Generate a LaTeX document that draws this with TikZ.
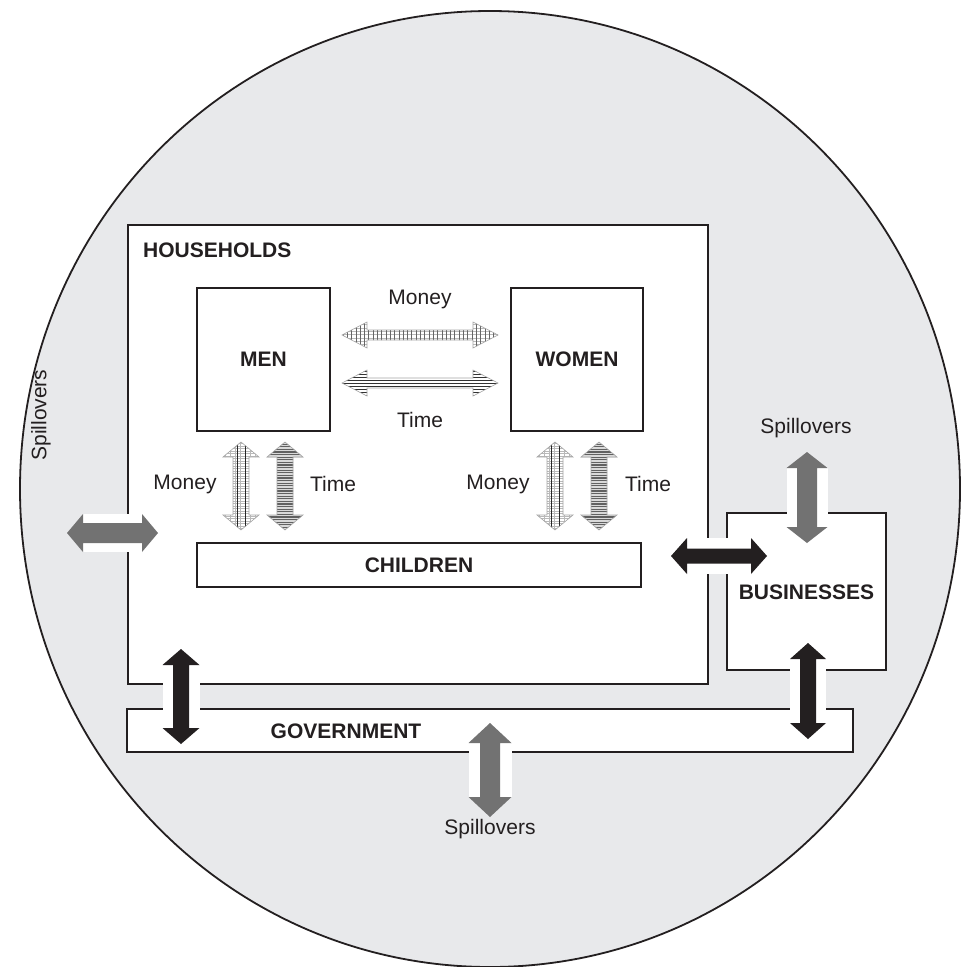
\documentclass[tikz,border=0pt]{standalone}
\usepackage{fontspec}
\setmainfont{Liberation Sans}
\usetikzlibrary{calc}

\definecolor{bgcircle}{HTML}{E8E9EB}
\definecolor{ink}{HTML}{231F20}
\definecolor{spill}{HTML}{727272}

% outline of a double-headed block arrow centred on the origin, pointing along x
% #1 length, #2 shaft width, #3 head width, #4 head length
\newcommand\arrowpoly[4]{(-#1/2,0) -- (-#1/2+#4,-#3/2) -- (-#1/2+#4,-#2/2) -- (#1/2-#4,-#2/2) -- (#1/2-#4,-#3/2) -- (#1/2,0) -- (#1/2-#4,#3/2) -- (#1/2-#4,#2/2) -- (-#1/2+#4,#2/2) -- (-#1/2+#4,#3/2) -- cycle}

% solid block arrow on a white backing strip
% #1 style, #2 centre, #3 angle, #4 length, #5 shaft, #6 head, #7 head length
\newcommand\solidarrow[7]{%
  \fill[white,shift={#2},rotate=#3] (-#4/2+#7,-#6/2) rectangle (#4/2-#7,#6/2);
  \path[#1,shift={#2},rotate=#3] \arrowpoly{#4}{#5}{#6}{#7};
}

% hatched block arrow: #8 draws the hatching around coordinate (pc)
\newcommand\hatcharrow[8]{%
  \path #2 coordinate (pc);
  \begin{scope}
    \clip[shift={#2},rotate=#3] \arrowpoly{#4}{#5}{#6}{#7};
    #8
  \end{scope}
  \draw[#1,shift={#2},rotate=#3] \arrowpoly{#4}{#5}{#6}{#7};
}

% hatchings
\newcommand\moneygrid{%
  \fill[white] ([shift={(-90,-60)}]pc) rectangle ([shift={(90,60)}]pc);
  \foreach \k in {-60,-56.7,...,60}
    \draw[gray!55,line width=0.4pt] ([shift={(-90,\k)}]pc) -- ([shift={(90,\k)}]pc);
  \foreach \k in {-90,-85.7,...,90}
    \draw[black!60,line width=0.5pt] ([shift={(\k,-60)}]pc) -- ([shift={(\k,60)}]pc);
}
\newcommand\moneyvgrid{%
  \fill[white] ([shift={(-30,-60)}]pc) rectangle ([shift={(30,60)}]pc);
  \foreach \k in {-60,-57.5,...,60}
    \draw[gray!55,line width=0.4pt] ([shift={(-30,\k)}]pc) -- ([shift={(30,\k)}]pc);
  \foreach \k in {-16,-11,...,16}
    \draw[gray!55,line width=0.4pt] ([shift={(\k,-60)}]pc) -- ([shift={(\k,60)}]pc);
  \draw[black!85,line width=0.8pt]
    ([shift={(-4,-60)}]pc) -- ([shift={(-4,60)}]pc)
    ([shift={(4,-60)}]pc) -- ([shift={(4,60)}]pc);
}
\newcommand\timehstripes{%
  \fill[white] ([shift={(-90,-60)}]pc) rectangle ([shift={(90,60)}]pc);
  \foreach \k in {-60,-57,...,60}
    \draw[black!80,line width=0.8pt] ([shift={(-90,\k)}]pc) -- ([shift={(90,\k)}]pc);
}
\newcommand\timevstripes{%
  \fill[gray!30] ([shift={(-30,-60)}]pc) rectangle ([shift={(30,60)}]pc);
  \foreach \k in {-60,-57.4,...,60}
    \draw[black!62,line width=1.2pt] ([shift={(-30,\k)}]pc) -- ([shift={(30,\k)}]pc);
}

\tikzset{
  box/.style={draw=ink, line width=2.4pt, fill=white, inner sep=0pt},
  lbl/.style={font=\fontsize{21}{25}\selectfont, text=ink, inner sep=0pt},
  blbl/.style={font=\fontsize{21}{25}\selectfont\bfseries, text=ink, inner sep=0pt},
  blackarrow/.style={fill=ink},
  grayarrow/.style={fill=spill},
  hatchline/.style={draw=gray!70, line width=0.6pt},
}

\begin{document}
\begin{tikzpicture}[x=1pt,y=-1pt]
  \useasboundingbox (0,0) rectangle (962,967);

  % the wider economy
  \draw[fill=bgcircle, draw=ink, line width=1.8pt] (490,489) ellipse [x radius=470, y radius=478];

  % sectors
  \node[box, minimum width=580pt, minimum height=459pt] (hh) at (418,454.5) {};
  \node[blbl, anchor=base west] (hhlabel) at (143,257) {HOUSEHOLDS};
  \node[box, minimum width=726pt, minimum height=43pt] (gov) at (490,730.5) {};
  \node[blbl] (govlabel) at (346,731) {GOVERNMENT};
  \node[box, minimum width=159pt, minimum height=157pt] (bus) at (806.5,591.5) {};
  \node[blbl] (buslabel) at (806.5,592) {BUSINESSES};

  % members of the household
  \node[box, minimum width=133pt, minimum height=143pt] (men) at (263.5,359.5) {};
  \node[blbl] (menlabel) at (men.center) {MEN};
  \node[box, minimum width=132pt, minimum height=143pt] (women) at (577,359.5) {};
  \node[blbl] (womenlabel) at (women.center) {WOMEN};
  \node[box, minimum width=444pt, minimum height=44pt] (children) at (419,565) {};
  \node[blbl] (childrenlabel) at (children.center) {CHILDREN};

  % flows between the sectors
  \solidarrow{blackarrow}{(719,556)}{0}{96}{15}{36}{16}
  \solidarrow{blackarrow}{(181,696.5)}{90}{95}{16}{37}{16}
  \solidarrow{blackarrow}{(808,691)}{90}{96}{16}{36}{16}

  % spillovers to the rest of the economy
  \solidarrow{grayarrow}{(112.5,533)}{0}{91}{20}{38}{16}
  \solidarrow{grayarrow}{(807,497.5)}{90}{91}{20}{41}{16}
  \solidarrow{grayarrow}{(490,770)}{90}{94}{20}{43}{20}
  \node[lbl] (spillleft) at (41,415) [rotate=90] {Spillovers};
  \node[lbl] (spilltop) at (806,428) {Spillovers};
  \node[lbl] (spillbottom) at (490,829) {Spillovers};

  % money and time between men and women
  \node[lbl] (mwmoney) at (420,299) {Money};
  \hatcharrow{hatchline}{(420,335)}{0}{156}{10}{26}{25}{\moneygrid}
  \hatcharrow{hatchline}{(420,383)}{0}{156}{10}{26}{25}{\timehstripes}
  \node[lbl] (mwtime) at (420,420) {Time};

  % money and time from parents to children
  \hatcharrow{hatchline}{(241,486)}{90}{88}{16}{36}{15}{\moneyvgrid}
  \hatcharrow{hatchline}{(285,486)}{90}{88}{16}{36}{15}{\timevstripes}
  \hatcharrow{hatchline}{(555,486)}{90}{88}{16}{36}{15}{\moneyvgrid}
  \hatcharrow{hatchline}{(599,486)}{90}{88}{16}{36}{15}{\timevstripes}
  \node[lbl] (menmoney) at (185,484) {Money};
  \node[lbl] (mentime) at (333,484) {Time};
  \node[lbl] (womenmoney) at (498,484) {Money};
  \node[lbl] (womentime) at (648,484) {Time};
\end{tikzpicture}
\end{document}
